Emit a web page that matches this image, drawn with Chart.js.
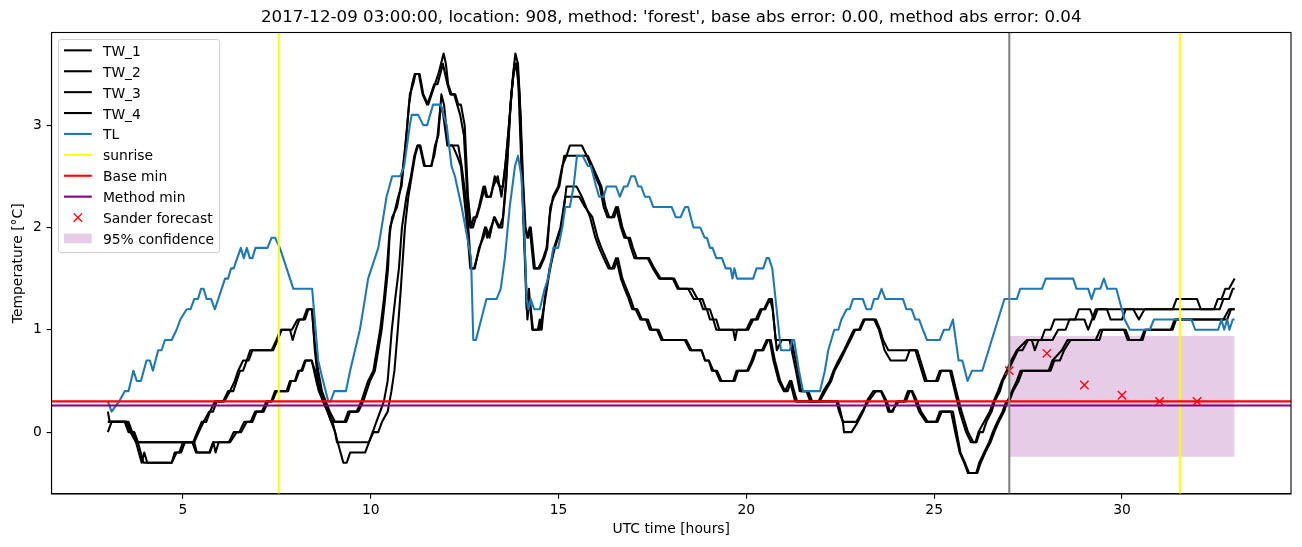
<!DOCTYPE html>
<html><head><meta charset="utf-8">
<script src="https://cdn.jsdelivr.net/npm/chart.js@4.4.0/dist/chart.umd.min.js"></script>
<style>html,body{margin:0;padding:0;background:#fff}canvas{display:block}</style>
</head><body>
<canvas id="c" width="1302" height="547"></canvas>
<script>
// ---------------- data (hours, °C) ----------------
const TW_1 = [[3.0,0.2],[3.05,0.1],[3.55,0.1],[3.65,0.0],[3.75,-0.1],[3.9,-0.3],[3.97,-0.2],[4.05,-0.3],[4.7,-0.3],[4.83,-0.2],[4.95,-0.2],[5.05,-0.1],[5.3,-0.1],[5.42,0.0],[5.55,0.1],[5.7,0.2],[5.8,0.2],[5.9,0.3],[6.07,0.3],[6.2,0.4],[6.34,0.4],[6.43,0.5],[6.52,0.6],[6.6,0.6],[6.7,0.7],[6.79,0.8],[7.36,0.8],[7.49,0.9],[7.6,1.0],[7.9,1.0],[8.05,1.1],[8.2,1.1],[8.3,1.2],[8.44,1.2],[8.51,0.8],[8.6,0.5],[8.73,0.3],[8.85,0.2],[8.95,0.1],[9.35,0.1],[9.45,0.2],[9.67,0.2],[9.8,0.3],[9.98,0.5],[10.11,0.6],[10.2,0.8],[10.29,1.0],[10.38,1.3],[10.46,1.6],[10.51,2.0],[10.6,2.1],[10.73,2.3],[10.82,2.4],[10.95,2.9],[11.04,3.3],[11.13,3.4],[11.19,3.5],[11.3,3.5],[11.4,3.3],[11.53,3.2],[11.62,3.3],[11.71,3.4],[11.8,3.5],[11.94,3.7],[12.0,3.6],[12.06,3.4],[12.15,3.3],[12.25,3.3],[12.33,3.2],[12.4,3.2],[12.5,3.0],[12.59,2.3],[12.67,2.0],[12.74,2.1],[12.82,2.1],[12.9,2.2],[12.97,2.3],[13.04,2.4],[13.1,2.3],[13.2,2.3],[13.3,2.5],[13.43,2.4],[13.52,2.4],[13.61,2.7],[13.7,3.1],[13.79,3.5],[13.85,3.7],[13.92,3.6],[13.99,3.1],[14.05,2.5],[14.12,2.0],[14.19,1.9],[14.26,2.0],[14.37,1.6],[14.46,1.6],[14.59,1.7],[14.68,1.8],[14.76,2.1],[14.85,2.3],[14.99,2.4],[15.1,2.6],[15.21,2.7],[15.3,2.8],[15.62,2.8],[15.75,2.7],[15.86,2.6],[15.98,2.5],[16.1,2.4],[16.2,2.2],[16.3,2.1],[16.43,2.1],[16.53,2.2],[16.66,2.0],[16.75,1.9],[16.85,1.9],[16.93,1.8],[17.02,1.7],[17.37,1.7],[17.51,1.6],[17.68,1.5],[18.04,1.5],[18.17,1.4],[18.45,1.4],[18.6,1.3],[18.75,1.3],[18.85,1.2],[18.95,1.2],[19.03,1.1],[19.12,1.1],[19.2,1.0],[19.65,1.0],[19.7,0.9],[19.75,1.0],[20.05,1.0],[20.18,1.1],[20.3,1.1],[20.41,1.2],[20.5,1.2],[20.63,1.3],[20.7,1.2],[20.81,0.8],[20.94,0.9],[21.2,0.9],[21.37,0.6],[21.46,0.4],[21.6,0.4],[21.7,0.3],[21.95,0.3],[22.1,0.4],[22.26,0.5],[22.35,0.6],[22.5,0.7],[22.63,0.8],[22.77,0.9],[22.9,1.0],[23.0,1.0],[23.12,1.1],[23.45,1.1],[23.56,1.0],[23.64,0.9],[23.78,0.8],[24.55,0.8],[24.8,0.5],[25.1,0.5],[25.19,0.6],[25.46,0.6],[25.59,0.4],[25.73,0.2],[25.9,0.0],[26.04,-0.1],[26.13,-0.1],[26.21,0.0],[26.3,0.0],[26.39,0.1],[26.53,0.2],[26.61,0.3],[26.75,0.4],[26.83,0.5],[26.97,0.6],[27.1,0.7],[27.23,0.8],[27.35,0.8],[27.5,0.9],[27.85,0.9],[27.95,1.0],[28.1,1.0],[28.2,1.1],[28.75,1.1],[28.85,1.2],[29.15,1.2],[29.25,1.1],[29.35,1.2],[30.3,1.2],[30.45,1.1],[30.6,1.2],[31.35,1.2],[31.45,1.3],[32.0,1.3],[32.1,1.2],[32.45,1.2],[32.55,1.3],[32.65,1.3],[32.75,1.4],[32.85,1.4],[33.0,1.5]];
const TW_2 = [[3.0,0.1],[3.5,0.1],[3.6,0.0],[3.7,0.0],[3.8,-0.1],[3.95,-0.3],[4.7,-0.3],[4.78,-0.2],[4.9,-0.2],[5.0,-0.1],[5.27,-0.1],[5.38,0.0],[5.5,0.1],[5.62,0.1],[5.72,0.2],[5.85,0.3],[6.1,0.3],[6.25,0.4],[6.38,0.5],[6.47,0.6],[6.6,0.7],[6.75,0.7],[6.85,0.8],[7.4,0.8],[7.52,0.9],[7.63,1.0],[7.85,1.0],[7.92,0.9],[8.0,1.0],[8.1,1.1],[8.25,1.1],[8.34,1.2],[8.43,1.2],[8.5,0.9],[8.6,0.6],[8.7,0.4],[8.8,0.3],[8.91,0.2],[9.05,0.1],[9.3,0.1],[9.4,0.2],[9.62,0.2],[9.75,0.3],[9.93,0.5],[10.07,0.6],[10.16,0.8],[10.25,1.0],[10.35,1.3],[10.43,1.6],[10.49,1.9],[10.57,2.1],[10.7,2.2],[10.8,2.4],[10.92,2.8],[11.02,3.2],[11.1,3.4],[11.17,3.5],[11.28,3.5],[11.38,3.3],[11.5,3.2],[11.6,3.3],[11.69,3.4],[11.78,3.4],[11.92,3.6],[11.98,3.5],[12.04,3.4],[12.12,3.3],[12.22,3.3],[12.3,3.2],[12.38,3.1],[12.48,2.9],[12.57,2.3],[12.65,2.0],[12.72,2.0],[12.8,2.1],[12.88,2.2],[13.0,2.4],[13.07,2.3],[13.18,2.3],[13.26,2.4],[13.38,2.5],[13.48,2.3],[13.58,2.6],[13.68,3.0],[13.77,3.4],[13.83,3.6],[13.9,3.6],[13.97,3.2],[14.03,2.6],[14.1,2.0],[14.17,1.9],[14.23,2.0],[14.34,1.6],[14.5,1.6],[14.62,1.7],[14.7,1.8],[14.78,2.2],[14.88,2.3],[15.02,2.4],[15.15,2.7],[15.7,2.7],[15.78,2.7],[15.9,2.6],[16.02,2.5],[16.14,2.4],[16.25,2.2],[16.35,2.1],[16.48,2.1],[16.58,2.2],[16.7,2.0],[16.8,1.9],[16.9,1.9],[16.98,1.8],[17.08,1.7],[17.41,1.7],[17.55,1.6],[17.72,1.5],[18.08,1.5],[18.21,1.4],[18.55,1.4],[18.7,1.3],[18.83,1.3],[18.93,1.2],[19.03,1.2],[19.12,1.1],[19.2,1.1],[19.28,1.0],[20.0,1.0],[20.13,1.1],[20.25,1.1],[20.37,1.2],[20.47,1.2],[20.6,1.3],[20.68,1.3],[20.78,0.9],[20.9,0.9],[21.15,0.9],[21.32,0.6],[21.42,0.4],[21.65,0.4],[21.75,0.3],[21.92,0.3],[22.05,0.4],[22.22,0.5],[22.32,0.6],[22.45,0.7],[22.6,0.8],[22.73,0.9],[22.86,1.0],[23.03,1.0],[23.15,1.1],[23.4,1.1],[23.53,1.0],[23.68,0.8],[23.84,0.7],[24.25,0.7],[24.35,0.8],[24.5,0.8],[24.75,0.5],[25.05,0.5],[25.15,0.6],[25.42,0.6],[25.55,0.4],[25.68,0.2],[25.85,0.0],[25.98,-0.1],[26.1,-0.1],[26.18,0.0],[26.33,0.1],[26.48,0.2],[26.58,0.3],[26.7,0.4],[26.8,0.5],[26.93,0.6],[27.05,0.7],[27.2,0.8],[27.47,0.9],[27.6,0.9],[27.68,0.8],[27.78,0.9],[28.15,0.9],[28.3,1.0],[28.5,1.0],[28.6,1.1],[29.0,1.1],[29.1,1.0],[29.2,1.1],[29.3,1.2],[29.6,1.2],[29.7,1.1],[30.0,1.1],[30.1,1.2],[32.5,1.2],[32.6,1.2],[32.7,1.3],[32.85,1.3],[32.95,1.4],[33.0,1.4]];
const TW_3 = [[3.0,0.1],[3.45,0.1],[3.55,0.0],[3.7,0.0],[3.8,-0.1],[5.3,-0.1],[5.37,-0.2],[5.72,-0.2],[5.81,-0.1],[5.87,-0.2],[5.95,-0.1],[6.25,-0.1],[6.43,0.0],[6.55,0.0],[6.7,0.1],[6.85,0.1],[6.96,0.2],[7.15,0.2],[7.27,0.3],[7.38,0.3],[7.49,0.4],[7.76,0.4],[7.85,0.5],[7.98,0.5],[8.07,0.6],[8.15,0.6],[8.25,0.7],[8.43,0.7],[8.55,0.5],[8.62,0.4],[8.73,0.3],[8.85,0.2],[8.95,0.1],[9.05,0.0],[9.12,-0.1],[9.27,-0.3],[9.36,-0.3],[9.45,-0.2],[9.85,-0.2],[9.95,-0.1],[10.07,0.0],[10.2,0.0],[10.3,0.1],[10.45,0.2],[10.55,0.4],[10.63,0.6],[10.72,1.0],[10.8,1.4],[10.91,2.0],[11.0,2.3],[11.09,2.5],[11.18,2.7],[11.26,2.8],[11.32,2.8],[11.44,2.6],[11.62,2.6],[11.71,2.8],[11.8,2.9],[11.88,3.3],[11.95,3.2],[12.06,2.8],[12.2,2.8],[12.33,2.8],[12.42,2.6],[12.56,2.2],[12.67,1.6],[12.75,1.6],[12.9,1.8],[13.04,2.0],[13.1,1.9],[13.2,2.0],[13.3,2.1],[13.43,2.0],[13.52,2.1],[13.61,2.5],[13.74,3.3],[13.83,3.6],[13.9,3.6],[13.96,3.3],[14.03,2.5],[14.1,1.8],[14.17,1.1],[14.23,1.3],[14.32,1.0],[14.45,1.0],[14.5,1.1],[14.55,1.0],[14.63,1.3],[14.76,1.6],[14.9,1.8],[15.08,2.0],[15.21,2.4],[15.48,2.4],[15.62,2.3],[15.84,2.1],[15.98,1.9],[16.08,1.8],[16.2,1.7],[16.33,1.6],[16.43,1.6],[16.53,1.7],[16.66,1.5],[16.76,1.4],[16.87,1.3],[16.96,1.2],[17.05,1.2],[17.18,1.1],[17.33,1.1],[17.43,1.0],[17.62,1.0],[17.74,0.9],[18.36,0.9],[18.5,0.8],[18.81,0.8],[18.9,0.7],[19.0,0.7],[19.12,0.6],[19.22,0.6],[19.34,0.5],[19.69,0.5],[19.78,0.6],[20.05,0.6],[20.18,0.7],[20.27,0.8],[20.45,0.8],[20.58,0.9],[20.65,0.9],[20.76,0.7],[20.9,0.5],[21.03,0.4],[21.16,0.5],[21.3,0.3],[22.44,0.3],[22.57,0.1],[22.6,0.0],[22.8,0.0],[22.97,0.1],[23.11,0.2],[23.2,0.3],[23.38,0.4],[23.6,0.4],[23.74,0.3],[23.82,0.2],[23.86,0.2],[24.06,0.3],[24.2,0.3],[24.3,0.4],[24.4,0.4],[24.5,0.3],[24.6,0.2],[24.78,0.1],[25.09,0.1],[25.2,0.2],[25.5,0.2],[25.6,0.0],[25.7,-0.2],[25.82,-0.3],[25.93,-0.4],[26.15,-0.4],[26.24,-0.3],[26.36,-0.2],[26.5,-0.1],[26.6,0.0],[26.72,0.1],[26.86,0.2],[26.95,0.3],[27.07,0.4],[27.2,0.5],[27.3,0.6],[28.1,0.6],[28.2,0.7],[28.35,0.7],[28.46,0.8],[28.63,0.9],[29.4,0.9],[29.48,1.0],[30.1,1.0],[30.2,0.9],[30.55,0.9],[30.63,1.0],[31.35,1.0],[31.44,1.1],[32.8,1.1],[32.9,1.2],[33.0,1.2]];
const TW_4 = [[3.0,0.0],[3.1,0.1],[3.5,0.1],[3.6,0.0],[3.75,-0.1],[5.25,-0.1],[5.35,-0.2],[5.7,-0.2],[5.8,-0.1],[6.22,-0.1],[6.35,0.0],[6.5,0.0],[6.63,0.1],[6.8,0.1],[6.92,0.2],[7.1,0.2],[7.22,0.3],[7.35,0.3],[7.45,0.4],[7.8,0.4],[7.88,0.5],[8.0,0.5],[8.1,0.6],[8.18,0.6],[8.27,0.7],[8.42,0.7],[8.52,0.6],[8.62,0.4],[8.75,0.3],[8.88,0.2],[8.98,0.1],[9.05,0.0],[9.1,-0.1],[9.95,-0.1],[10.05,0.0],[10.15,0.1],[10.25,0.2],[10.35,0.3],[10.45,0.5],[10.56,1.0],[10.65,1.3],[10.75,1.6],[10.83,2.0],[10.95,2.3],[11.07,2.5],[11.16,2.7],[11.24,2.8],[11.3,2.8],[11.42,2.6],[11.6,2.6],[11.69,2.7],[11.78,2.9],[11.86,3.2],[11.93,3.1],[12.04,2.8],[12.18,2.8],[12.3,2.7],[12.4,2.6],[12.54,2.1],[12.65,1.6],[12.77,1.6],[12.88,1.8],[13.0,1.9],[13.07,2.0],[13.16,1.9],[13.28,2.1],[13.4,2.0],[13.5,2.0],[13.6,2.4],[13.72,3.2],[13.8,3.5],[13.87,3.6],[13.93,3.4],[14.0,2.7],[14.08,1.9],[14.15,1.2],[14.21,1.4],[14.3,1.0],[14.5,1.0],[14.6,1.2],[14.73,1.5],[14.88,1.8],[15.05,2.0],[15.18,2.3],[15.55,2.3],[15.7,2.2],[15.9,2.1],[16.04,1.9],[16.14,1.8],[16.26,1.7],[16.38,1.6],[16.48,1.6],[16.58,1.7],[16.7,1.5],[16.81,1.4],[16.92,1.3],[17.01,1.2],[17.1,1.2],[17.22,1.1],[17.38,1.1],[17.48,1.0],[17.66,1.0],[17.78,0.9],[18.4,0.9],[18.54,0.8],[18.8,0.8],[18.9,0.7],[19.0,0.7],[19.08,0.6],[19.18,0.6],[19.3,0.5],[19.65,0.5],[19.74,0.6],[20.02,0.6],[20.14,0.7],[20.24,0.8],[20.42,0.8],[20.54,0.9],[20.62,0.9],[20.72,0.7],[20.86,0.5],[21.0,0.4],[21.1,0.4],[21.2,0.5],[21.27,0.4],[21.35,0.3],[22.4,0.3],[22.47,0.2],[22.57,0.1],[22.93,0.1],[23.08,0.2],[23.25,0.3],[23.45,0.4],[23.58,0.4],[23.7,0.3],[23.78,0.2],[23.9,0.2],[24.0,0.3],[24.25,0.3],[24.35,0.4],[24.42,0.4],[24.55,0.3],[24.65,0.2],[24.83,0.1],[25.05,0.1],[25.15,0.2],[25.45,0.2],[25.56,0.0],[25.68,-0.2],[25.8,-0.3],[25.9,-0.4],[26.12,-0.4],[26.2,-0.3],[26.33,-0.2],[26.46,-0.1],[26.56,0.0],[26.68,0.1],[26.82,0.2],[26.92,0.3],[27.0,0.3],[27.1,0.4],[27.25,0.5],[27.35,0.6],[28.05,0.6],[28.15,0.7],[28.4,0.8],[28.55,0.9],[29.3,0.9],[29.42,1.0],[30.05,1.0],[30.15,0.9],[30.5,0.9],[30.6,1.0],[31.3,1.0],[31.4,1.1],[32.7,1.1],[32.85,1.2],[33.0,1.2]];
const TL = [[3.0,0.3],[3.1,0.2],[3.3,0.3],[3.45,0.4],[3.55,0.4],[3.68,0.6],[3.77,0.5],[3.88,0.5],[4.03,0.7],[4.12,0.7],[4.2,0.6],[4.34,0.8],[4.43,0.8],[4.52,0.9],[4.7,0.9],[4.83,1.0],[4.93,1.1],[5.1,1.2],[5.2,1.2],[5.3,1.3],[5.4,1.3],[5.48,1.4],[5.55,1.4],[5.63,1.3],[5.75,1.3],[5.85,1.2],[6.12,1.5],[6.2,1.5],[6.28,1.6],[6.35,1.6],[6.54,1.8],[6.62,1.7],[6.7,1.8],[6.78,1.7],[6.85,1.7],[6.93,1.8],[7.25,1.8],[7.36,1.9],[7.45,1.9],[7.58,1.8],[7.94,1.4],[8.44,1.4],[8.6,0.7],[8.73,0.5],[8.87,0.3],[8.93,0.3],[9.03,0.4],[9.34,0.4],[9.45,0.6],[9.58,0.8],[9.71,1.0],[9.8,1.2],[9.93,1.5],[10.2,1.8],[10.29,2.0],[10.42,2.3],[10.57,2.5],[10.78,2.5],[10.89,2.6],[11.04,3.0],[11.09,3.1],[11.26,3.1],[11.4,3.0],[11.5,3.0],[11.66,3.2],[11.86,3.2],[12.02,3.0],[12.15,2.6],[12.24,2.5],[12.42,2.2],[12.67,1.7],[12.73,0.9],[12.8,0.9],[13.08,1.3],[13.35,1.3],[13.46,1.4],[13.57,1.7],[13.7,2.2],[13.84,2.6],[13.92,2.7],[14.01,2.5],[14.08,2.0],[14.15,1.3],[14.2,1.2],[14.26,1.3],[14.35,1.2],[14.5,1.2],[14.63,1.4],[14.72,1.5],[14.86,1.8],[14.99,1.8],[15.1,2.0],[15.18,2.2],[15.3,2.2],[15.4,2.4],[15.49,2.7],[15.64,2.7],[15.78,2.6],[15.86,2.6],[16.0,2.4],[16.08,2.3],[16.2,2.3],[16.28,2.4],[16.53,2.4],[16.63,2.3],[16.74,2.4],[16.83,2.4],[16.93,2.5],[17.03,2.5],[17.12,2.4],[17.2,2.4],[17.3,2.3],[17.42,2.3],[17.52,2.2],[18.01,2.2],[18.12,2.1],[18.25,2.1],[18.37,2.2],[18.45,2.2],[18.59,2.0],[18.77,2.0],[18.89,1.9],[18.95,1.9],[19.03,1.8],[19.1,1.8],[19.2,1.7],[19.35,1.7],[19.45,1.6],[19.58,1.6],[19.63,1.5],[19.68,1.6],[19.75,1.5],[20.18,1.5],[20.27,1.6],[20.45,1.6],[20.54,1.7],[20.6,1.7],[20.69,1.6],[20.92,0.8],[21.16,0.8],[21.22,0.9],[21.27,0.9],[21.4,0.6],[21.51,0.4],[21.96,0.4],[22.09,0.6],[22.18,0.8],[22.34,1.0],[22.45,1.0],[22.53,1.1],[22.67,1.2],[22.75,1.2],[22.84,1.3],[23.1,1.3],[23.2,1.2],[23.32,1.2],[23.4,1.3],[23.5,1.3],[23.6,1.4],[23.7,1.3],[24.17,1.3],[24.26,1.2],[24.4,1.2],[24.5,1.1],[24.6,1.1],[24.7,1.0],[24.81,0.9],[25.15,0.9],[25.26,1.0],[25.4,1.0],[25.5,1.1],[25.65,0.7],[25.75,0.7],[25.89,0.5],[26.01,0.6],[26.28,0.6],[26.87,1.3],[27.2,1.3],[27.29,1.4],[27.87,1.4],[27.97,1.5],[28.7,1.5],[28.79,1.4],[29.1,1.4],[29.19,1.3],[29.28,1.4],[29.42,1.4],[29.52,1.5],[29.61,1.4],[29.85,1.4],[30.07,1.1],[30.21,1.0],[30.74,1.0],[30.85,1.1],[31.85,1.1],[31.95,1.0],[32.56,1.0],[32.65,1.1],[32.72,1.0],[32.8,1.1],[32.86,1.0],[32.95,1.1],[33.0,1.1]];
const sunriseHours = [7.55, 31.55];
const forecastHour = 27.0;
const baseMin = 0.30;
const methodMin = 0.26;
const sanderHours = [27, 28, 29, 30, 31, 32];
const sanderValues = [0.60, 0.77, 0.46, 0.36, 0.30, 0.30];
const confHours = [27, 33];
const confLower = -0.24;
const confUpper = 0.94;
const xTicks = [5, 10, 15, 20, 25, 30];
const yTicks = [0, 1, 2, 3];
const xRange = [1.5, 34.5];
const yRange = [-0.605, 3.905];
const titleText = "2017-12-09 03:00:00, location: 908, method: 'forest', base abs error: 0.00, method abs error: 0.04";

// ---------------- chart ----------------
const FONT = "'DejaVu Sans', 'Liberation Sans', sans-serif";
const FS = 13.89;
Chart.defaults.color = '#000';
Chart.defaults.font.family = FONT;
Chart.defaults.font.size = FS;

const pts = arr => arr.map(p => ({x: p[0], y: p[1]}));
const vline = h => [{x: h, y: -50}, {x: h, y: 50}];
const hline = v => [{x: -50, y: v}, {x: 100, y: v}];
const lineDs = (label, data, color, order) => ({
  label, data, borderColor: color, backgroundColor: color, borderWidth: 2.08,
  pointRadius: 0, tension: 0, fill: false, order, clip: 0,
  borderJoinStyle: 'round', borderCapStyle: 'butt'
});

const datasets = [
  Object.assign(lineDs('95% confidence', confHours.map(h => ({x: h, y: confUpper})), 'rgba(0,0,0,0)', 40),
    {fill: {value: confLower}, backgroundColor: 'rgba(128,0,128,0.2)', borderWidth: 0}),
  lineDs('TW_1', pts(TW_1), '#000000', 30),
  lineDs('TW_2', pts(TW_2), '#000000', 29),
  lineDs('TW_3', pts(TW_3), '#000000', 28),
  lineDs('TW_4', pts(TW_4), '#000000', 27),
  lineDs('TL', pts(TL), '#1f77b4', 26),
  lineDs('sunrise', vline(sunriseHours[0]), '#ffff00', 25),
  lineDs('sunrise2', vline(sunriseHours[1]), '#ffff00', 24),
  lineDs('Base min', hline(baseMin), '#ff0000', 23),
  lineDs('Method min', hline(methodMin), '#800080', 22),
  {label: 'Sander forecast', data: sanderHours.map((h, i) => ({x: h, y: sanderValues[i]})),
   showLine: false, pointStyle: 'crossRot', pointRadius: 5.9, pointHoverRadius: 5.9,
   borderColor: '#ff0000', backgroundColor: '#ff0000', pointBorderWidth: 1.4, borderWidth: 1.4, order: 21, clip: 0},
  lineDs('forecast time', vline(forecastHour), '#808080', 20)
];

const legendItems = [
  {t: 'TW_1', type: 'line', c: '#000'},
  {t: 'TW_2', type: 'line', c: '#000'},
  {t: 'TW_3', type: 'line', c: '#000'},
  {t: 'TW_4', type: 'line', c: '#000'},
  {t: 'TL', type: 'line', c: '#1f77b4'},
  {t: 'sunrise', type: 'line', c: '#ffff00'},
  {t: 'Base min', type: 'line', c: '#ff0000'},
  {t: 'Method min', type: 'line', c: '#800080'},
  {t: 'Sander forecast', type: 'x', c: '#ff0000'},
  {t: '95% confidence', type: 'patch', c: 'rgba(128,0,128,0.2)'}
];

const framePlugin = {
  id: 'frame',
  afterDatasetsDraw(chart) {
    const a = chart.chartArea, ctx = chart.ctx;
    ctx.save();
    ctx.strokeStyle = '#000'; ctx.lineWidth = 1.1;
    ctx.strokeRect(a.left, a.top, a.right - a.left, a.bottom - a.top);
    ctx.restore();
  }
};

const legendPlugin = {
  id: 'mplLegend',
  afterDraw(chart) {
    const ctx = chart.ctx, a = chart.chartArea;
    ctx.save();
    ctx.font = FS + 'px ' + FONT;
    let maxW = 0;
    legendItems.forEach(it => { maxW = Math.max(maxW, ctx.measureText(it.t).width); });
    const x0 = a.left + 6.95, y0 = a.top + 6.95;
    const pad = 5.56, hl = 27.78, hp = 11.11, rowH = 20.9;
    const w = pad + hl + hp + maxW + pad;
    const h = pad * 2 + legendItems.length * rowH - 6.95;
    const r = 2.8;
    ctx.beginPath();
    ctx.moveTo(x0 + r, y0);
    ctx.lineTo(x0 + w - r, y0); ctx.arcTo(x0 + w, y0, x0 + w, y0 + r, r);
    ctx.lineTo(x0 + w, y0 + h - r); ctx.arcTo(x0 + w, y0 + h, x0 + w - r, y0 + h, r);
    ctx.lineTo(x0 + r, y0 + h); ctx.arcTo(x0, y0 + h, x0, y0 + h - r, r);
    ctx.lineTo(x0, y0 + r); ctx.arcTo(x0, y0, x0 + r, y0, r);
    ctx.closePath();
    ctx.fillStyle = 'rgba(255,255,255,0.8)'; ctx.fill();
    ctx.strokeStyle = '#cccccc'; ctx.lineWidth = 1; ctx.stroke();
    const hx = x0 + pad, tx = hx + hl + hp;
    legendItems.forEach((it, i) => {
      const cy = y0 + 10.9 + i * rowH;
      if (it.type === 'line') {
        ctx.strokeStyle = it.c; ctx.lineWidth = 2.08;
        ctx.beginPath(); ctx.moveTo(hx, cy); ctx.lineTo(hx + hl, cy); ctx.stroke();
      } else if (it.type === 'x') {
        const cx = hx + hl / 2, s = 4.17;
        ctx.strokeStyle = it.c; ctx.lineWidth = 1.4;
        ctx.beginPath();
        ctx.moveTo(cx - s, cy - s); ctx.lineTo(cx + s, cy + s);
        ctx.moveTo(cx - s, cy + s); ctx.lineTo(cx + s, cy - s);
        ctx.stroke();
      } else {
        ctx.fillStyle = it.c; ctx.fillRect(hx, cy - 4.86, hl, 9.72);
      }
      ctx.fillStyle = '#000'; ctx.textBaseline = 'alphabetic'; ctx.textAlign = 'left';
      ctx.fillText(it.t, tx, cy + 5.5);
    });
    ctx.restore();
  }
};

const W = 1302, H = 547;
const AREA = {left: 51.5, right: 1291, top: 32.5, bottom: 494};

new Chart(document.getElementById('c'), {
  type: 'line',
  data: {datasets},
  options: {
    responsive: false, animation: false, devicePixelRatio: 1,
    layout: {padding: {left: 0, top: 0, right: W - AREA.right, bottom: 0}},
    plugins: {legend: {display: false}, tooltip: {enabled: false}, title: {display: false}},
    events: [],
    scales: {
      x: {
        type: 'linear', position: 'bottom', min: xRange[0], max: xRange[1],
        afterBuildTicks: s => { s.ticks = xTicks.map(v => ({value: v})); },
        afterFit: s => { s.height = H - AREA.bottom; },
        ticks: {autoSkip: false, maxRotation: 0, padding: 3, font: {size: FS}, color: '#000'},
        grid: {drawOnChartArea: false, drawTicks: true, tickLength: 4.86, color: '#000', lineWidth: 1.1},
        border: {display: true, color: '#000', width: 1.1},
        title: {display: true, text: 'UTC time [hours]', font: {size: FS}, color: '#000', padding: {top: 0, bottom: 9.7}}
      },
      x2: {
        type: 'linear', position: 'top', min: 0, max: 1, display: true,
        ticks: {display: false}, grid: {display: false, drawTicks: false}, border: {display: false},
        afterFit: s => { s.height = AREA.top; },
        title: {display: true, text: titleText, font: {size: 16.67}, color: '#000', padding: {top: 8, bottom: 0}}
      },
      y: {
        type: 'linear', position: 'left', min: yRange[0], max: yRange[1],
        afterBuildTicks: s => { s.ticks = yTicks.map(v => ({value: v})); },
        afterFit: s => { s.width = AREA.left; },
        ticks: {padding: 4.86, font: {size: FS}, color: '#000'},
        grid: {drawOnChartArea: false, drawTicks: true, tickLength: 4.86, color: '#000', lineWidth: 1.1},
        border: {display: true, color: '#000', width: 1.1},
        title: {display: true, text: 'Temperature [°C]', font: {size: FS}, color: '#000', padding: {top: 9.7, bottom: 0}}
      }
    }
  },
  plugins: [framePlugin, legendPlugin]
});
</script>
</body></html>
